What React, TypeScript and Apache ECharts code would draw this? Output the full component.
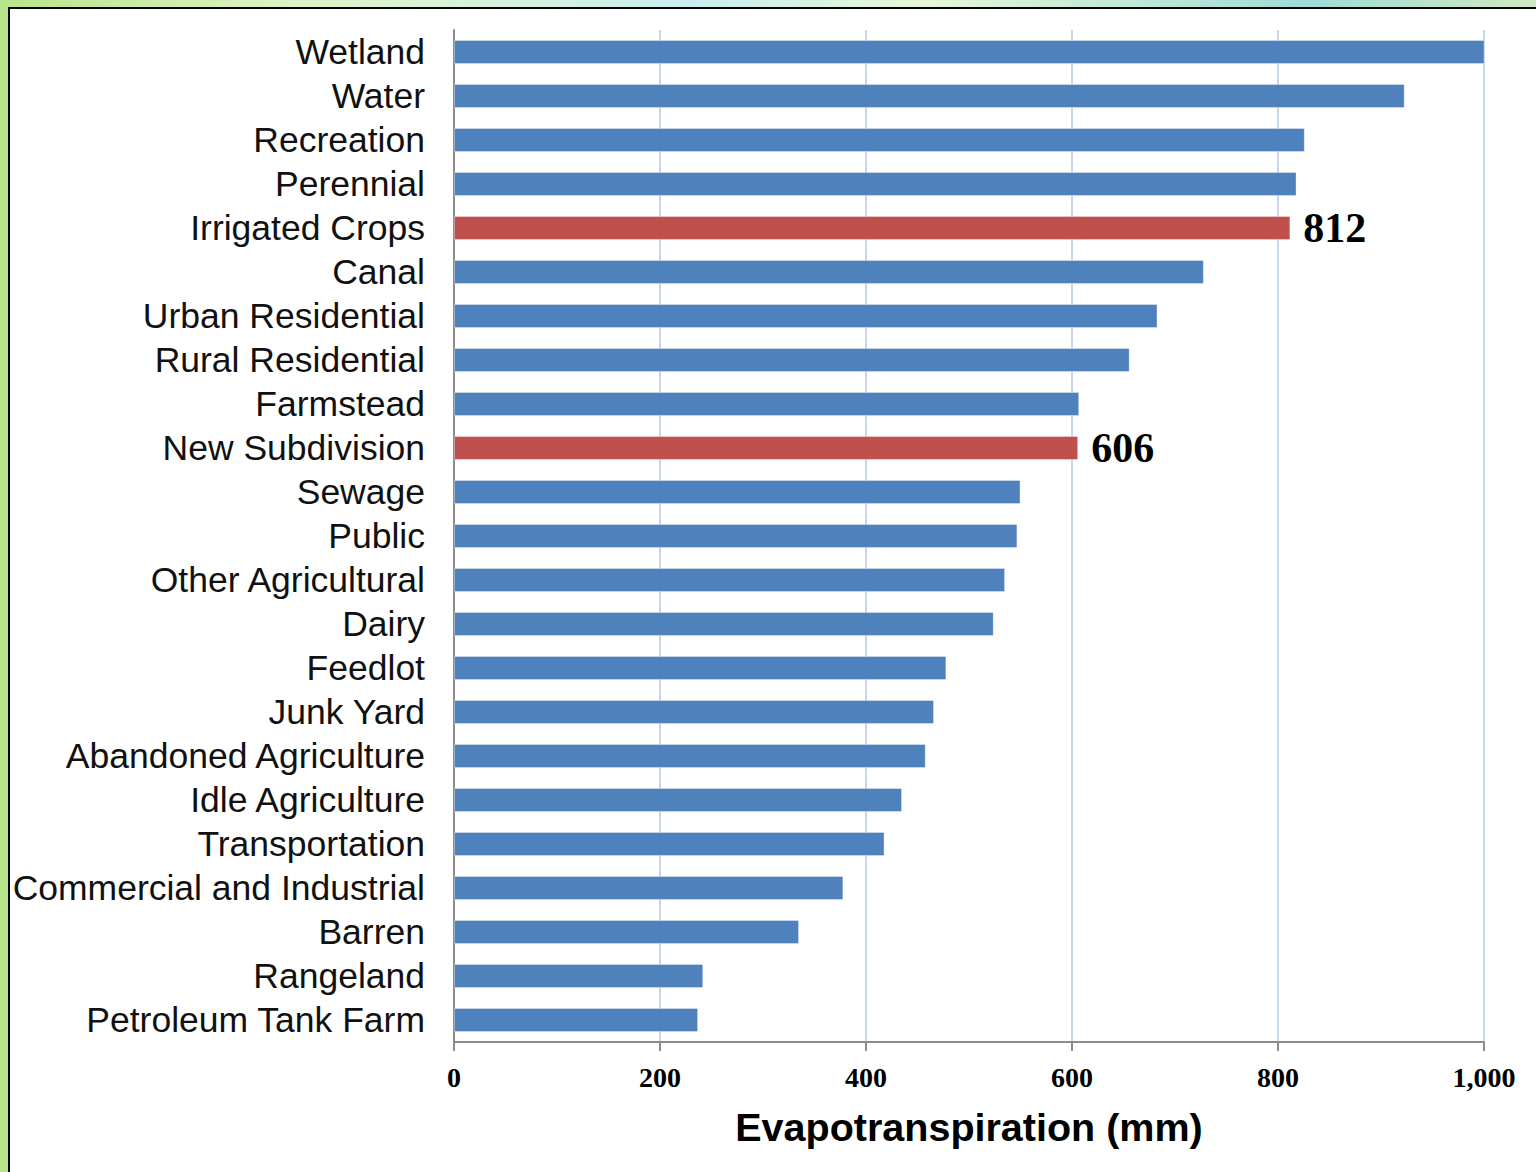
import React, { useEffect, useRef } from "react";
import * as echarts from "echarts";

// Land-use classes, top to bottom
const landUses = [
  "Wetland",
  "Water",
  "Recreation",
  "Perennial",
  "Irrigated Crops",
  "Canal",
  "Urban Residential",
  "Rural Residential",
  "Farmstead",
  "New Subdivision",
  "Sewage",
  "Public",
  "Other Agricultural",
  "Dairy",
  "Feedlot",
  "Junk Yard",
  "Abandoned Agriculture",
  "Idle Agriculture",
  "Transportation",
  "Commercial and Industrial",
  "Barren",
  "Rangeland",
  "Petroleum Tank Farm",
];

// Annual evapotranspiration (mm)
const etValues = [
  1003, 923, 826, 818, 812, 728, 683, 656, 607, 606, 550, 547, 535, 524, 478,
  466, 458, 435, 418, 378, 335, 242, 237,
];

// Classes called out in red with their value
const highlighted = ["Irrigated Crops", "New Subdivision"];

const xTicks = [0, 200, 400, 600, 800, 1000];

const BLUE = "#4f81bd";
const RED = "#c0504d";

export default function App() {
  const ref = useRef<HTMLDivElement>(null);

  useEffect(() => {
    if (!ref.current) return;
    const chart = echarts.init(ref.current, undefined, { renderer: "svg" });

    const data = landUses.map((name, i) => {
      const hot = highlighted.includes(name);
      return {
        value: etValues[i],
        itemStyle: { color: hot ? RED : BLUE },
        label: {
          show: hot,
          position: "right",
          distance: 13,
          fontFamily: "Liberation Serif",
          fontWeight: "bold",
          fontSize: 42,
          color: "#000",
        },
      };
    });

    chart.setOption({
      animation: false,
      backgroundColor: "transparent",
      grid: { left: 454, right: 52, top: 30, bottom: 130, containLabel: false },
      xAxis: {
        type: "value",
        min: xTicks[0],
        max: xTicks[xTicks.length - 1],
        interval: 200,
        name: "Evapotranspiration (mm)",
        nameLocation: "middle",
        nameGap: 65,
        nameTextStyle: {
          fontFamily: "Liberation Sans",
          fontWeight: "bold",
          fontSize: 39.5,
          color: "#000",
        },
        axisLine: { show: true, lineStyle: { color: "#8c8c8c", width: 2 } },
        axisTick: { show: true, length: 9, lineStyle: { color: "#8c8c8c", width: 2 } },
        axisLabel: {
          margin: 21,
          fontFamily: "Liberation Serif",
          fontWeight: "bold",
          fontSize: 28,
          color: "#000",
          formatter: (v: number) => v.toLocaleString("en-US"),
        },
        splitLine: { show: true, lineStyle: { color: "#c8d5ee", width: 2 } },
      },
      yAxis: {
        type: "category",
        data: landUses,
        inverse: true,
        axisLine: { show: true, lineStyle: { color: "#8c8c8c", width: 2 } },
        axisTick: { show: false },
        axisLabel: {
          interval: 0,
          margin: 29,
          fontFamily: "Liberation Sans",
          fontSize: 35.5,
          color: "#111",
        },
        splitLine: { show: false },
      },
      series: [
        {
          type: "bar",
          data,
          barWidth: 24,
          itemStyle: { borderColor: "rgba(255,255,255,0.35)", borderWidth: 1 },
        },
      ],
    });

    return () => chart.dispose();
  }, []);

  return (
    <div
      style={{
        position: "fixed",
        left: 0,
        top: 0,
        width: 1536,
        height: 1172,
        overflow: "hidden",
        background:
          "linear-gradient(90deg, #b8e48a 0%, #dff5c8 20%, #c9eef0 45%, #e6f7d6 60%, #9fdcd8 85%, #cfe9c0 100%)",
      }}
    >
      <div
        style={{
          position: "absolute",
          left: 8,
          top: 7,
          width: 1540,
          height: 1180,
          background: "#fff",
          borderLeft: "2px solid #000",
          borderTop: "2px solid #000",
        }}
      />
      <div
        ref={ref}
        style={{ position: "absolute", left: 0, top: 0, width: 1536, height: 1172 }}
      />
    </div>
  );
}
